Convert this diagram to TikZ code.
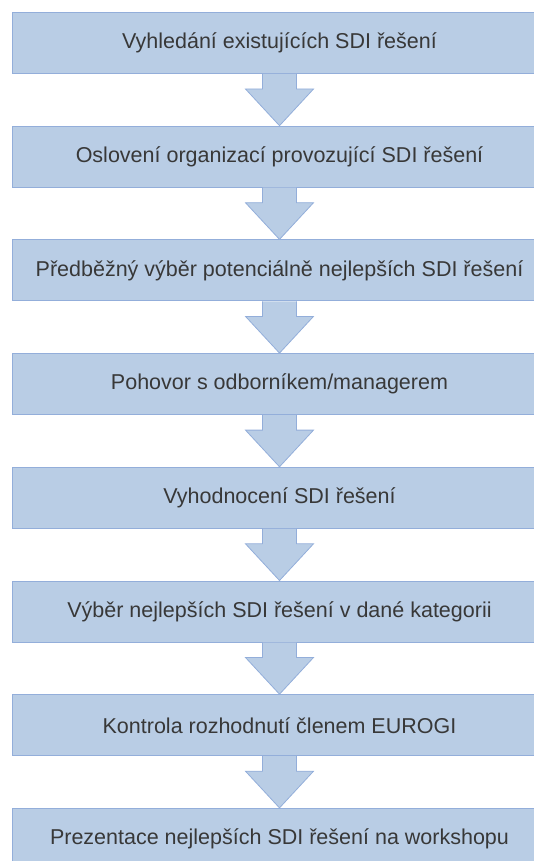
\documentclass[tikz,border=0pt]{standalone}
\usepackage{fontspec}
\setmainfont{Liberation Sans}
\usetikzlibrary{calc}
\definecolor{boxfill}{HTML}{B9CDE5}
\definecolor{boxline}{HTML}{93AEDA}
\definecolor{txt}{HTML}{383838}
\begin{document}
\begin{tikzpicture}[x=1pt,y=-1pt,
  stepbox/.style={draw=boxline,fill=boxfill,line width=1pt,anchor=north west,
    minimum width=534pt,minimum height=61pt,inner sep=0pt,text=txt,
    font=\fontsize{21.5}{25}\selectfont},
  flowarrow/.style={draw=boxline,fill=boxfill,line width=0.8pt,line join=miter}]
\useasboundingbox (0,0) rectangle (534,861);
\node[stepbox] (b1) at (12,12) {Vyhledání existujících SDI řešení};
\node[stepbox] (b2) at (12,125.7) {Oslovení organizací provozující SDI řešení};
\node[stepbox] (b3) at (12,239.4) {Předběžný výběr potenciálně nejlepších SDI řešení};
\node[stepbox] (b4) at (12,353.1) {Pohovor s odborníkem/managerem};
\node[stepbox] (b5) at (12,466.8) {Vyhodnocení SDI řešení};
\node[stepbox] (b6) at (12,580.5) {Výběr nejlepších SDI řešení v dané kategorii};
\node[stepbox] (b7) at (12,694.2) {Kontrola rozhodnutí členem EUROGI};
\node[stepbox] (b8) at (12,807.9) {Prezentace nejlepších SDI řešení na workshopu};
\foreach \a/\b in {b1/b2,b2/b3,b3/b4,b4/b5,b5/b6,b6/b7,b7/b8}{
  \draw[flowarrow] ($(\a.south)+(-17,0)$) -- ($(\a.south)+(-17,15)$) -- ($(\a.south)+(-34,15)$)
    -- (\b.north) -- ($(\a.south)+(34,15)$) -- ($(\a.south)+(17,15)$) -- ($(\a.south)+(17,0)$);
}
\end{tikzpicture}
\end{document}
